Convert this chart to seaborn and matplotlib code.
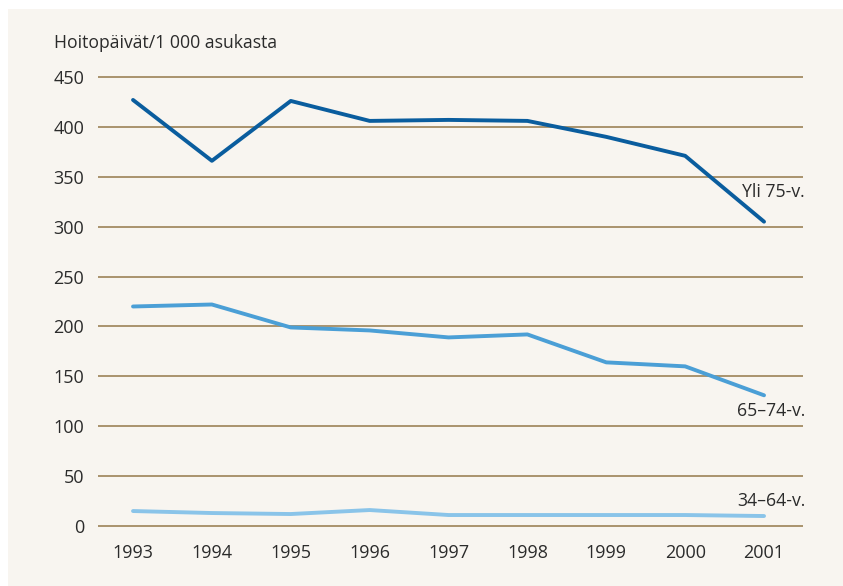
import matplotlib
matplotlib.use("Agg")
import matplotlib.pyplot as plt
import seaborn as sns
import pandas as pd
from matplotlib.patches import Rectangle

years = [1993, 1994, 1995, 1996, 1997, 1998, 1999, 2000, 2001]
yli75 = [427, 366, 426, 406, 407, 406, 390, 371, 305]
v65_74 = [220, 222, 199, 196, 189, 192, 164, 160, 131]
v34_64 = [15, 13, 12, 16, 11, 11, 11, 11, 10]
series_names = ["Yli 75-v.", "65–74-v.", "34–64-v."]
yticks = [0, 50, 100, 150, 200, 250, 300, 350, 400, 450]
ylabel = "Hoitopäivät/1 000 asukasta"

colors = ["#0a5d9e", "#4b9fd6", "#8ac4e9"]
bg = "#f8f5f0"
grid_c = "#a38b63"
text_c = "#2b2b2b"

df = pd.DataFrame({
    "year": years * 3,
    "value": yli75 + v65_74 + v34_64,
    "series": [series_names[0]] * 9 + [series_names[1]] * 9 + [series_names[2]] * 9,
})

sns.set_theme(style="white")
plt.rcParams["font.family"] = ["Open Sans", "DejaVu Sans"]

fig = plt.figure(figsize=(8.43, 5.86), dpi=100, facecolor="white")
fig.patches.append(Rectangle((8 / 843, 0), 1, 1 - 9 / 586, transform=fig.transFigure,
                             facecolor=bg, edgecolor="none", zorder=-10))
ax = fig.add_axes([98 / 843, 59 / 586, 705 / 843, 451 / 586])
ax.set_facecolor(bg)
ax.patch.set_alpha(0)

sns.lineplot(data=df, x="year", y="value", hue="series", palette=colors,
             linewidth=2.8, ax=ax, legend=False, zorder=3)

ax.set_xlim(1992.556, 2001.494)
ax.set_ylim(-1, 451)
ax.set_yticks(yticks)
ax.set_xticks(years)
ax.set_xticklabels([str(y) for y in years])
ax.yaxis.grid(True, color=grid_c, linewidth=1.3)
ax.xaxis.grid(False)
for s in ax.spines.values():
    s.set_visible(False)
ax.tick_params(axis="y", length=0, pad=10, labelsize=13, labelcolor=text_c)
ax.tick_params(axis="x", length=0, pad=12, labelsize=13, labelcolor=text_c)
ax.set_xlabel("")
ax.set_ylabel("")

ax.text(-44 / 705, 1 + 33 / 451, ylabel, transform=ax.transAxes, ha="left", va="center",
        fontsize=12.7, color=text_c)

label_y = [335, 115, 25]
for name, yy in zip(series_names, label_y):
    ax.text(2001.52, yy, name, ha="right", va="center", fontsize=12.7, color=text_c)

fig.savefig("out.png", dpi=100, facecolor="white")
